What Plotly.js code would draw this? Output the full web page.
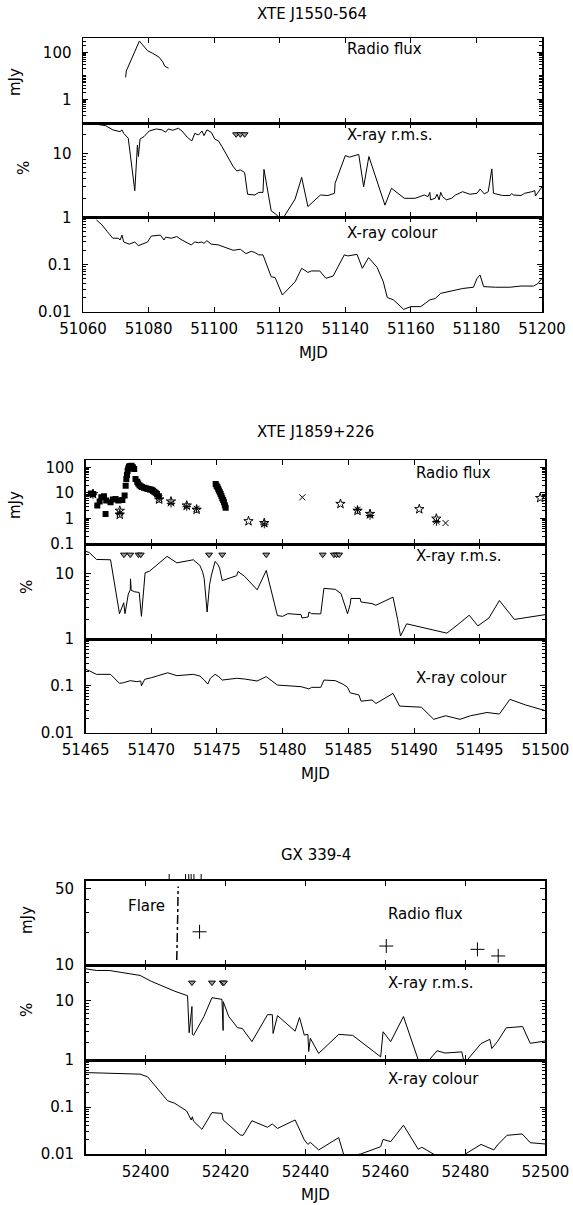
<!DOCTYPE html>
<html><head><meta charset="utf-8">
<script src="https://cdn.plot.ly/plotly-3.0.1.min.js"></script>
<style>html,body{margin:0;padding:0;background:#fff}#c{width:573px;height:1205px}</style>
</head><body><div id="c"></div><script>
// ---------- XTE J1550-564 ----------
const radio1X = [51073.0, 51073.2, 51077.2, 51079.7, 51081.3, 51083.2, 51084.3, 51084.9, 51086.1];
const radio1Y = [8.6, 16, 300, 117, 90, 62, 40, 26, 21];
const rms1X = [51064.1, 51066.9, 51069.1, 51071.3, 51071.9, 51072.4, 51073.8, 51075.8, 51076.6, 51076.9, 51077.4, 51078.6, 51080.2, 51082.4, 51084.1, 51085.2, 51086.0, 51087.4, 51089.1, 51090.2, 51091.9, 51093.2, 51094.1, 51095.2, 51096.3, 51096.9, 51097.8, 51099.1, 51100.2, 51101.3, 51102.4, 51104.1, 51105.8, 51106.9, 51108.0, 51109.3, 51110.2, 51112.4, 51113.6, 51114.9, 51115.2, 51117.4, 51119.1, 51120.0, 51121.3, 51124.7, 51126.7, 51128.6, 51132.4, 51134.7, 51136.7, 51136.9, 51140.0, 51141.3, 51144.1, 51145.6, 51147.2, 51152.1, 51154.1, 51158.0, 51161.3, 51164.1, 51165.2, 51165.8, 51166.0, 51167.4, 51168.0, 51168.6, 51169.1, 51169.7, 51170.8, 51172.4, 51173.6, 51175.8, 51178.0, 51180.2, 51181.1, 51182.4, 51183.6, 51184.7, 51185.2, 51188.0, 51190.2, 51190.8, 51191.3, 51193.6, 51194.7, 51196.9, 51197.8, 51198.0, 51200.0];
const rms1Y = [28.4, 27, 23.2, 21.8, 23.2, 20.5, 17.2, 2.6, 13.5, 8.9, 16.7, 18.2, 22.3, 24, 23.2, 21.3, 24, 22.9, 24.6, 22.3, 17.6, 15.6, 20.5, 19.3, 22.3, 18.9, 23.2, 21.3, 16.7, 15.6, 12.7, 8.9, 6.2, 5.3, 5.5, 5.0, 2.29, 2.23, 2.45, 2.45, 5.6, 1.26, 1.09, 0.94, 1.02, 1.93, 4.2, 1.47, 2.23, 2.19, 2.37, 3.4, 9.2, 8.7, 9.6, 3.0, 8.9, 1.55, 2.84, 1.98, 1.98, 2.23, 2.10, 2.45, 1.87, 1.98, 2.29, 1.87, 2.45, 2.10, 1.87, 1.98, 2.23, 2.51, 2.29, 2.37, 2.77, 2.32, 2.51, 5.7, 2.37, 2.19, 2.19, 2.34, 2.23, 2.19, 2.37, 2.51, 2.61, 2.15, 3.0];
const lim1X = [51106.7, 51108.0, 51109.3];
const lim1Y = [19.8, 19.8, 19.8];
const col1X = [51064.1, 51065.8, 51067.4, 51069.1, 51070.8, 51071.3, 51071.9, 51072.4, 51074.1, 51075.8, 51076.9, 51078.6, 51079.7, 51080.8, 51083.6, 51084.7, 51085.2, 51086.9, 51088.6, 51090.2, 51091.9, 51093.0, 51094.1, 51095.2, 51096.3, 51096.9, 51097.8, 51099.1, 51101.3, 51103.6, 51105.8, 51108.0, 51109.7, 51111.3, 51112.4, 51113.6, 51114.9, 51117.4, 51118.6, 51120.8, 51124.7, 51126.7, 51128.6, 51129.7, 51132.2, 51134.1, 51136.3, 51139.7, 51140.8, 51143.6, 51145.2, 51147.1, 51149.7, 51151.6, 51152.8, 51154.7, 51157.8, 51160.0, 51163.0, 51165.8, 51167.4, 51169.1, 51172.4, 51175.8, 51179.1, 51180.2, 51181.1, 51182.2, 51185.8, 51190.2, 51193.6, 51197.4, 51198.6, 51200.0];
const col1Y = [0.88, 0.69, 0.50, 0.36, 0.36, 0.33, 0.42, 0.30, 0.27, 0.30, 0.25, 0.28, 0.30, 0.40, 0.42, 0.33, 0.38, 0.36, 0.39, 0.33, 0.28, 0.26, 0.30, 0.29, 0.30, 0.28, 0.32, 0.27, 0.26, 0.23, 0.20, 0.21, 0.17, 0.19, 0.18, 0.16, 0.16, 0.055, 0.053, 0.0226, 0.043, 0.083, 0.068, 0.073, 0.073, 0.051, 0.057, 0.16, 0.152, 0.164, 0.083, 0.14, 0.087, 0.043, 0.020, 0.0178, 0.0112, 0.0128, 0.0128, 0.0178, 0.019, 0.0245, 0.028, 0.031, 0.033, 0.051, 0.06, 0.034, 0.033, 0.033, 0.035, 0.035, 0.0386, 0.051];

// ---------- XTE J1859+226 ----------
const sq2X = [51465.4, 51465.56, 51465.89, 51466.07, 51466.2, 51466.4, 51466.52, 51466.57, 51466.9, 51467.08, 51467.28, 51467.5, 51467.8, 51467.97, 51468.05, 51468.1, 51468.15, 51468.2, 51468.25, 51468.3, 51468.4, 51468.5, 51468.6, 51468.7, 51468.8, 51468.93, 51469.0, 51469.1, 51469.2, 51469.3, 51469.45, 51469.57, 51469.7, 51469.8, 51469.9, 51470.03, 51470.13, 51470.23, 51470.33, 51470.43, 51470.58, 51474.9, 51474.97, 51475.03, 51475.09, 51475.15, 51475.22, 51475.28, 51475.34, 51475.4, 51475.47, 51475.53, 51475.6, 51475.66];
const sq2Y = [9.5, 9.1, 3.2, 4.6, 6.8, 7.4, 1.48, 5.0, 4.3, 5.5, 5.8, 5.0, 5.3, 7.8, 19, 35, 50, 73, 90, 107, 112, 114, 100, 85, 35, 27, 23, 20, 18, 17, 16, 15, 14.5, 14, 13.6, 13.3, 12, 11, 10, 9, 7.4, 22, 19, 17, 14.5, 12.3, 10.5, 9.1, 7.5, 6.2, 5.2, 4.3, 3.3, 2.6];
const star2X = [51465.56, 51467.6, 51467.6, 51470.6, 51471.5, 51472.7, 51473.45, 51477.4, 51478.6, 51484.4, 51485.7, 51486.65, 51490.4, 51491.7, 51499.6];
const star2Y = [9.1, 2.0, 1.4, 5.5, 4.6, 3.2, 2.2, 0.78, 0.66, 3.7, 2.0, 1.5, 2.3, 0.98, 6.3];
const ast2X = [51465.56, 51467.6, 51470.6, 51471.5, 51472.7, 51473.45, 51478.6, 51485.7, 51486.65, 51491.7];
const ast2Y = [8.5, 1.6, 6.0, 3.9, 2.9, 2.4, 0.6, 2.2, 1.3, 0.75];
const cross2X = [51481.5, 51492.4];
const cross2Y = [6.7, 0.66];
const rms2X = [51465.0, 51465.28, 51465.83, 51466.9, 51467.58, 51467.9, 51468.0, 51468.25, 51468.4, 51468.42, 51468.47, 51468.75, 51469.08, 51469.25, 51469.53, 51469.86, 51471.2, 51471.95, 51473.2, 51473.7, 51473.9, 51474.03, 51474.25, 51474.44, 51474.58, 51474.86, 51475.08, 51475.2, 51475.4, 51476.1, 51476.5, 51476.6, 51477.1, 51478.06, 51478.75, 51479.6, 51480.0, 51480.4, 51481.4, 51481.47, 51481.94, 51482.0, 51482.2, 51482.9, 51483.14, 51484.0, 51484.44, 51484.94, 51485.14, 51485.2, 51485.9, 51485.97, 51486.8, 51487.1, 51488.4, 51488.75, 51488.97, 51489.44, 51492.5, 51493.33, 51494.2, 51494.86, 51495.7, 51496.5, 51497.64, 51500.0];
const rms2Y = [22.3, 21.3, 16.7, 16.5, 2.45, 3.6, 2.45, 4.9, 5.7, 8.4, 5.6, 5.3, 5.2, 2.23, 10.4, 11, 18.6, 14.8, 16.5, 13.5, 10.9, 8.4, 2.6, 6.9, 9.6, 15.6, 13.8, 12.3, 7.9, 8.9, 9.4, 10.9, 9.2, 5.7, 11.3, 2.29, 2.23, 2.45, 2.37, 2.1, 2.18, 2.6, 2.45, 2.43, 6.0, 5.8, 5.0, 2.45, 3.4, 4.2, 4.2, 3.7, 3.5, 3.3, 4.4, 2.0, 1.11, 1.71, 1.23, 1.66, 2.32, 1.59, 2.1, 3.9, 2.0, 2.37];
const lim2X = [51467.92, 51468.4, 51469.03, 51469.2, 51474.4, 51475.4, 51478.75, 51483.05, 51483.9, 51484.1, 51484.3];
const lim2Y = [19.8, 19.8, 19.8, 19.8, 19.8, 19.8, 19.8, 19.8, 19.8, 19.8, 19.8];
const col2X = [51465.0, 51465.28, 51465.83, 51466.9, 51467.58, 51467.9, 51468.4, 51468.9, 51469.2, 51469.25, 51469.5, 51470.0, 51471.25, 51471.95, 51473.2, 51473.7, 51474.03, 51474.3, 51474.5, 51474.86, 51475.14, 51475.4, 51476.5, 51477.1, 51478.06, 51478.75, 51479.6, 51481.4, 51482.0, 51482.2, 51482.9, 51483.14, 51484.0, 51484.6, 51484.94, 51485.14, 51485.8, 51485.97, 51486.8, 51487.1, 51488.4, 51488.9, 51490.56, 51491.5, 51492.4, 51493.5, 51494.3, 51495.55, 51496.5, 51497.3, 51498.5, 51500.0];
const col2Y = [0.225, 0.21, 0.176, 0.176, 0.113, 0.117, 0.129, 0.123, 0.127, 0.10, 0.138, 0.149, 0.19, 0.165, 0.176, 0.162, 0.133, 0.109, 0.145, 0.176, 0.157, 0.133, 0.145, 0.14, 0.127, 0.157, 0.104, 0.096, 0.086, 0.093, 0.093, 0.133, 0.129, 0.108, 0.093, 0.071, 0.064, 0.047, 0.050, 0.042, 0.069, 0.037, 0.035, 0.0193, 0.023, 0.0193, 0.023, 0.027, 0.025, 0.0515, 0.039, 0.0295];

// ---------- GX 339-4 ----------
const flare3X = [52407.8, 52407.9, 52408.0, 52408.05, 52408.1, 52408.15];
const flare3Y = [11.1, 14, 20, 30, 42, 52];
const flareTopX = [52405.9, 52410.0, 52410.8, 52411.4, 52412.1, 52413.9];
const radio3X = [52413.5, 52460.2, 52483.0, 52488.2];
const radio3Y = [20.1, 14.9, 13.9, 12.1];
const rms3X = [52385.0, 52387.7, 52390.9, 52394.5, 52398.6, 52401.4, 52402.7, 52405.5, 52407.3, 52410.5, 52410.9, 52411.6, 52411.7, 52412.0, 52414.6, 52416.6, 52419.1, 52419.4, 52419.42, 52420.8, 52423.0, 52424.2, 52426.6, 52430.5, 52431.7, 52431.9, 52433.0, 52437.4, 52438.5, 52439.7, 52440.6, 52440.8, 52441.2, 52443.3, 52448.3, 52451.8, 52458.8, 52459.4, 52461.3, 52464.5, 52468.2, 52470.4, 52472.9, 52474.9, 52479.1, 52479.7, 52483.9, 52486.1, 52486.6, 52488.0, 52490.2, 52494.3, 52496.2, 52500.0];
const rms3Y = [34.4, 32.2, 32.2, 29.5, 26.6, 21.2, 19.4, 16.0, 14.4, 12.1, 2.88, 7.95, 2.7, 2.6, 5.4, 11.2, 10.5, 3.14, 9.6, 5.4, 3.5, 3.39, 2.04, 5.8, 5.8, 2.8, 5.6, 3.06, 5.2, 2.63, 2.7, 1.39, 2.32, 1.29, 2.7, 2.6, 1.13, 2.99, 2.04, 5.4, 1.0, 0.91, 1.43, 1.31, 1.37, 0.87, 1.89, 2.23, 1.56, 2.04, 3.48, 3.66, 1.91, 2.09];
const lim3X = [52411.6, 52416.6, 52419.3, 52419.6];
const lim3Y = [20.1, 20.1, 20.1, 20.1];
const col3X = [52385.0, 52390.9, 52398.6, 52400.5, 52405.5, 52407.3, 52410.3, 52411.4, 52411.7, 52412.0, 52414.1, 52416.6, 52419.1, 52419.4, 52423.7, 52424.4, 52426.6, 52430.5, 52431.7, 52433.0, 52437.4, 52439.7, 52440.6, 52441.2, 52443.3, 52448.3, 52449.7, 52453.8, 52458.8, 52459.4, 52461.3, 52464.5, 52468.2, 52469.1, 52472.0, 52476.0, 52479.8, 52483.9, 52487.1, 52488.0, 52490.4, 52494.2, 52496.2, 52500.0];
const col3Y = [0.54, 0.52, 0.50, 0.44, 0.136, 0.12, 0.082, 0.053, 0.062, 0.050, 0.0335, 0.076, 0.073, 0.053, 0.0254, 0.025, 0.051, 0.037, 0.0435, 0.035, 0.053, 0.02, 0.016, 0.0177, 0.0122, 0.0223, 0.0088, 0.01, 0.0143, 0.0205, 0.0183, 0.041, 0.0126, 0.0139, 0.01, 0.007, 0.0098, 0.016, 0.0122, 0.0155, 0.025, 0.0267, 0.0174, 0.0163];

const groupTitles = ['XTE J1550-564', 'XTE J1859+226', 'GX 339-4'];
const panelLabels = ['Radio flux', 'X-ray r.m.s.', 'X-ray colour'];
const xTitle = 'MJD';
const yUnits = ['mJy', '%'];

// ---------- layout helpers ----------
const W = 573, H = 1205;
const FONT = {family: 'DejaVu Sans, Liberation Sans, Arial, sans-serif', size: 15, color: '#000'};
const pxX = p => p / W, pxY = p => 1 - p / H;
const xDom = [[83, 542], [85.6, 545.4], [85.6, 545.4]];
const xRange = [[51060, 51200], [51465, 51500], [52385, 52500]];
const xDtick = [20, 5, 20];
const yPix = [[38,123],[123,217.3],[217.3,311.7],[460,544],[544,639],[639,732.7],[880.7,965],[965,1060],[1060,1154]];
const yRange = [[-1.01,2.61],[0,1.473],[-2,0],[-1,2.285],[0,1.46],[-2,0],[1,1.77],[0,1.6],[-2,0]];
const yTickVals = [[1,100],[10],[0.01,0.1,1],[0.1,1,10,100],[10],[0.01,0.1,1],[10,50],[10],[0.01,0.1,1]];
const minorVals = [];
for (let e = -3; e <= 3; e++) for (let m = 1; m <= 9; m++) minorVals.push(m * Math.pow(10, e));

const layout = {
  width: W, height: H, margin: {l:0, r:0, t:0, b:0},
  paper_bgcolor: '#fff', plot_bgcolor: 'rgba(0,0,0,0)',
  showlegend: false, font: FONT, annotations: []
};
for (let k = 1; k <= 9; k++) {
  const g = Math.floor((k - 1) / 3);
  const sfx = k === 1 ? '' : String(k);
  layout['xaxis' + sfx] = {
    domain: [pxX(xDom[g][0]), pxX(xDom[g][1])], range: xRange[g], anchor: 'y' + sfx,
    showline: true, linecolor: '#000', linewidth: 1.5, mirror: 'ticks',
    ticks: 'inside', ticklen: 5, tickwidth: 1, tickcolor: '#000',
    tickmode: 'linear', tick0: xRange[g][0] - (xRange[g][0] % xDtick[g]), dtick: xDtick[g], tickformat: 'd',
    showticklabels: k % 3 === 0, tickfont: FONT, showgrid: false, zeroline: false, ticklabelstandoff: 3
  };
  const tv = yTickVals[k - 1];
  layout['yaxis' + sfx] = {
    domain: [pxY(yPix[k-1][1]), pxY(yPix[k-1][0])], type: 'log', range: yRange[k - 1], anchor: 'x' + sfx,
    showline: true, linecolor: '#000', linewidth: 1.5, mirror: 'ticks',
    ticks: 'inside', ticklen: 5, tickwidth: 1, tickcolor: '#000',
    tickmode: 'array', tickvals: tv, ticktext: tv.map(v => String(v)),
    minor: {tickmode: 'array', tickvals: minorVals, ticks: 'inside', ticklen: 3, tickwidth: 1, tickcolor: '#000'},
    tickfont: FONT, showgrid: false, zeroline: false, ticklabelstandoff: 7
  };
}
// thin strip above the GX 339-4 radio panel for the clipped flare markers
layout.yaxis10 = {domain: [pxY(880), pxY(874)], range: [0, 1], anchor: 'x7', visible: false, fixedrange: true};

function ann(text, x, y, xanchor, extra) {
  layout.annotations.push(Object.assign({text, x: pxX(x), y: pxY(y), xref: 'paper', yref: 'paper',
    xanchor: xanchor, yanchor: 'middle', showarrow: false, font: FONT}, extra || {}));
}
ann(groupTitles[0], 312, 14, 'center');
ann(groupTitles[1], 315, 432, 'center');
ann(groupTitles[2], 316, 855, 'center');
ann(xTitle, 313, 353, 'center');
ann(xTitle, 315, 774, 'center');
ann(xTitle, 315, 1195, 'center');
ann(yUnits[0], 15, 82, 'center', {textangle: -90});
ann(yUnits[1], 24, 168, 'center', {textangle: -90});
ann(yUnits[0], 15, 505, 'center', {textangle: -90});
ann(yUnits[1], 27, 587, 'center', {textangle: -90});
ann(yUnits[0], 27, 920, 'center', {textangle: -90});
ann(yUnits[1], 27, 1010, 'center', {textangle: -90});
ann(panelLabels[0], 345, 49, 'left');
ann(panelLabels[1], 345, 135, 'left');
ann(panelLabels[2], 345, 233, 'left');
ann(panelLabels[0], 414, 473, 'left');
ann(panelLabels[1], 414, 556, 'left');
ann(panelLabels[2], 414, 678, 'left');
ann('Flare', 126, 906, 'left');
ann(panelLabels[0], 386, 914, 'left');
ann(panelLabels[1], 386, 983, 'left');
ann(panelLabels[2], 386, 1079, 'left');

const LINE = {color: '#000', width: 1};
const ax = k => k === 1 ? {xaxis: 'x', yaxis: 'y'} : {xaxis: 'x' + k, yaxis: 'y' + k};
const lineT = (x, y, k, extra) => Object.assign({x, y, mode: 'lines', line: LINE, hoverinfo: 'skip'}, ax(k), extra || {});
const markT = (x, y, k, marker, extra) => Object.assign({x, y, mode: 'markers', marker, hoverinfo: 'skip'}, ax(k), extra || {});
const TRI = {symbol: 'triangle-down', size: 6, color: '#9a9a9a', line: {color: '#000', width: 1}};

const topSegX = [], topSegY = [];
flareTopX.forEach(v => { topSegX.push(v, v, null); topSegY.push(0, 1, null); });

const data = [
  lineT(radio1X, radio1Y, 1),
  lineT(rms1X, rms1Y, 2),
  markT(lim1X, lim1Y, 2, TRI),
  lineT(col1X, col1Y, 3),
  markT(sq2X, sq2Y, 4, {symbol: 'square', size: 6, color: '#000'}),
  markT(star2X, star2Y, 4, {symbol: 'star-open', size: 7, color: '#000', line: {color: '#000', width: 1}}),
  markT(ast2X, ast2Y, 4, {symbol: 'asterisk-open', size: 7, color: '#000', line: {color: '#000', width: 1}}),
  markT(cross2X, cross2Y, 4, {symbol: 'x-thin-open', size: 6, color: '#000', line: {color: '#000', width: 1}}),
  lineT(rms2X, rms2Y, 5),
  markT(lim2X, lim2Y, 5, TRI),
  lineT(col2X, col2Y, 6),
  lineT(flare3X, flare3Y, 7, {line: {color: '#000', width: 1.5, dash: 'dashdot'}}),
  {x: topSegX, y: topSegY, mode: 'lines', line: {color: '#000', width: 1}, xaxis: 'x7', yaxis: 'y10', hoverinfo: 'skip'},
  markT(radio3X, radio3Y, 7, {symbol: 'cross-thin-open', size: 10, color: '#000', line: {color: '#000', width: 1}}),
  lineT(rms3X, rms3Y, 8),
  markT(lim3X, lim3Y, 8, TRI),
  lineT(col3X, col3Y, 9)
];
Plotly.newPlot('c', data, layout, {staticPlot: true, displayModeBar: false});
</script></body></html>
